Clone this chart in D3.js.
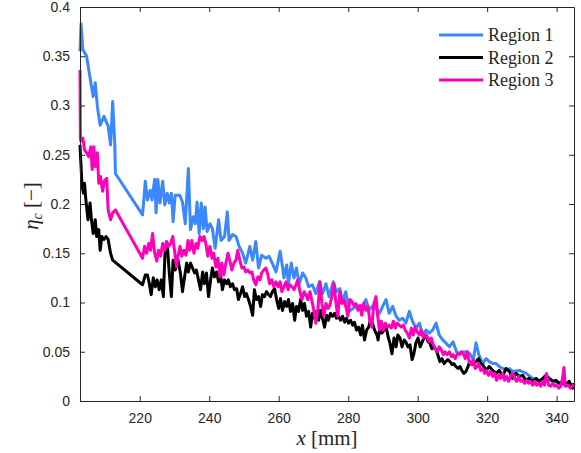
<!DOCTYPE html>
<html>
<head>
<meta charset="utf-8">
<script src="https://cdn.jsdelivr.net/npm/d3@7"></script>
<style>
  body { margin: 0; background: #fff; }
  svg { display: block; }
  .tick text { font-family: "Liberation Sans", Arial, sans-serif; font-size: 14px; fill: #262626; }
  .lbl { font-family: "Liberation Serif", "DejaVu Serif", serif; fill: #262626; }
</style>
</head>
<body>
<svg id="chart" width="581" height="453"></svg>
<script>
// data: [x (mm), eta_c]
const region1 = [
  [202.8,0.355],[203.1,0.383],[203.6,0.357],[204.7,0.350],[205.7,0.328],[206.6,0.309],[207.2,0.323],
  [207.8,0.299],[208.6,0.280],[209.7,0.289],[210.9,0.279],[211.6,0.260],[212.2,0.304],[212.8,0.262],
  [213.0,0.231],[220.8,0.189],[221.6,0.223],[222.2,0.204],[223.0,0.214],[223.5,0.204],[224.3,0.225],
  [224.7,0.191],[225.2,0.225],[225.8,0.201],[226.6,0.223],[227.2,0.199],[227.9,0.211],[228.5,0.201],
  [229.1,0.211],[229.6,0.182],[230.2,0.209],[231.5,0.209],[232.3,0.202],[233.1,0.180],[234.0,0.236],
  [234.6,0.174],[235.4,0.187],[236.0,0.180],[236.5,0.202],[237.1,0.170],[237.7,0.201],[238.3,0.175],
  [238.8,0.197],[239.4,0.172],[240.2,0.180],[240.9,0.175],[241.7,0.155],[242.7,0.184],[243.4,0.163],
  [244.4,0.167],[245.2,0.192],[245.7,0.163],[246.7,0.169],[247.7,0.167],[248.6,0.157],[249.6,0.150],
  [250.5,0.140],[251.7,0.157],[252.5,0.143],[253.4,0.162],[254.2,0.135],[255.1,0.148],[256.3,0.145],
  [257.2,0.147],[258.4,0.138],[259.2,0.131],[260.4,0.152],[261.1,0.136],[261.5,0.125],[262.3,0.138],
  [262.8,0.119],[263.6,0.140],[264.4,0.125],[265.1,0.135],[265.9,0.119],[266.9,0.130],[267.8,0.125],
  [268.6,0.116],[269.7,0.118],[270.7,0.109],[271.7,0.121],[272.6,0.109],[273.6,0.119],[274.5,0.106],
  [275.7,0.121],[276.6,0.111],[277.6,0.114],[278.4,0.101],[279.3,0.111],[280.3,0.091],[281.4,0.094],
  [282.6,0.097],[283.7,0.094],[285.1,0.103],[286.0,0.092],[287.2,0.097],[288.0,0.094],[289.0,0.089],
  [289.9,0.096],[290.9,0.103],[291.8,0.089],[292.8,0.096],[293.8,0.086],[294.7,0.082],[295.7,0.084],
  [296.6,0.079],[297.6,0.091],[298.5,0.081],[299.5,0.074],[300.5,0.079],[301.4,0.067],[302.4,0.072],
  [303.3,0.069],[304.3,0.072],[305.3,0.079],[306.2,0.067],[307.2,0.062],[308.1,0.059],[309.1,0.055],
  [310.2,0.060],[311.2,0.050],[312.2,0.048],[313.1,0.050],[314.1,0.050],[315.0,0.048],[316.0,0.042],
  [316.8,0.059],[317.6,0.047],[318.7,0.038],[319.7,0.043],[320.6,0.040],[321.6,0.038],[322.6,0.038],
  [323.5,0.035],[324.5,0.033],[325.4,0.031],[326.4,0.033],[327.3,0.030],[329.3,0.031],[331.2,0.028],
  [333.1,0.023],[335.0,0.020],[336.9,0.025],[338.9,0.020],[340.8,0.018],[342.7,0.016],[345.0,0.016]
];

const region2 = [
  [202.8,0.260],[203.0,0.245],[203.4,0.218],[203.8,0.211],[204.1,0.221],[204.5,0.204],[205.1,0.184],
  [205.7,0.201],[206.1,0.184],[206.6,0.170],[207.2,0.184],[207.6,0.167],[208.2,0.174],[208.6,0.153],
  [209.1,0.167],[209.7,0.164],[210.3,0.167],[210.9,0.164],[211.6,0.150],[212.2,0.143],[220.8,0.118],
  [221.6,0.128],[222.2,0.128],[222.7,0.120],[223.3,0.108],[223.9,0.125],[224.5,0.116],[225.0,0.123],
  [225.6,0.113],[226.2,0.123],[226.8,0.106],[227.3,0.153],[227.9,0.160],[228.5,0.130],[229.1,0.106],
  [229.6,0.143],[230.2,0.133],[231.0,0.143],[231.7,0.130],[232.3,0.111],[232.9,0.126],[233.5,0.140],
  [234.0,0.131],[234.6,0.140],[235.2,0.135],[235.8,0.130],[236.3,0.133],[236.9,0.123],[237.5,0.113],
  [238.1,0.131],[238.6,0.119],[239.2,0.130],[239.8,0.106],[240.4,0.123],[240.9,0.135],[241.5,0.126],
  [242.1,0.131],[242.7,0.121],[243.2,0.130],[243.8,0.113],[244.4,0.123],[245.0,0.119],[245.5,0.123],
  [246.1,0.116],[246.7,0.119],[247.3,0.113],[247.9,0.114],[248.4,0.103],[249.0,0.109],[249.6,0.116],
  [250.2,0.106],[250.7,0.109],[251.3,0.103],[251.9,0.096],[252.5,0.087],[253.0,0.113],[253.6,0.103],
  [254.2,0.106],[254.8,0.096],[255.3,0.108],[255.9,0.106],[256.5,0.111],[257.1,0.108],[257.6,0.106],
  [258.2,0.111],[258.8,0.114],[259.4,0.103],[260.0,0.094],[260.5,0.104],[261.1,0.092],[261.7,0.101],
  [262.3,0.096],[262.8,0.103],[263.4,0.091],[264.0,0.099],[264.6,0.082],[265.1,0.096],[265.7,0.091],
  [266.3,0.103],[266.9,0.092],[267.4,0.099],[268.0,0.086],[268.6,0.091],[269.2,0.075],[269.7,0.089],
  [270.3,0.084],[270.9,0.091],[271.5,0.082],[272.0,0.092],[272.6,0.084],[273.2,0.075],[273.8,0.087],
  [274.3,0.082],[274.9,0.089],[275.5,0.086],[276.1,0.089],[276.6,0.084],[277.2,0.086],[277.8,0.082],
  [278.4,0.086],[279.0,0.080],[279.5,0.084],[280.1,0.079],[280.7,0.082],[281.3,0.077],[281.8,0.080],
  [282.4,0.072],[283.0,0.075],[283.6,0.067],[284.1,0.077],[284.7,0.062],[285.3,0.072],[285.9,0.075],
  [286.4,0.082],[287.0,0.079],[287.6,0.072],[288.3,0.067],[288.6,0.062],[289.2,0.076],[289.7,0.069],
  [290.3,0.072],[290.9,0.076],[291.5,0.065],[292.0,0.059],[292.6,0.048],[293.2,0.064],[293.8,0.055],
  [294.3,0.067],[294.9,0.064],[295.5,0.055],[296.1,0.062],[296.6,0.060],[297.2,0.055],[297.8,0.057],
  [298.4,0.042],[298.9,0.048],[299.5,0.059],[300.1,0.064],[300.7,0.055],[301.2,0.059],[301.8,0.064],
  [302.4,0.067],[303.0,0.060],[303.5,0.059],[304.1,0.053],[304.7,0.055],[305.3,0.052],[305.8,0.047],
  [306.4,0.040],[307.0,0.043],[307.6,0.038],[308.1,0.040],[308.7,0.042],[309.3,0.040],[309.9,0.037],
  [310.4,0.038],[311.0,0.035],[311.6,0.033],[312.2,0.035],[312.7,0.031],[313.3,0.028],[313.9,0.030],
  [314.5,0.035],[315.0,0.040],[315.6,0.037],[316.2,0.038],[316.8,0.040],[317.6,0.043],[318.1,0.038],
  [318.7,0.037],[319.7,0.031],[320.6,0.035],[321.6,0.031],[322.6,0.028],[323.5,0.031],[324.5,0.025],
  [325.4,0.033],[326.4,0.030],[327.3,0.023],[328.3,0.028],[329.3,0.025],[330.2,0.026],[331.2,0.021],
  [332.1,0.023],[333.1,0.020],[334.1,0.023],[335.0,0.020],[336.0,0.023],[336.9,0.026],[337.9,0.023],
  [338.9,0.020],[339.8,0.021],[340.8,0.018],[341.7,0.020],[342.7,0.016],[343.6,0.020],[344.6,0.013],
  [345.0,0.018]
];

const region3 = [
  [202.8,0.336],[202.9,0.268],[203.0,0.264],[203.6,0.267],[204.1,0.255],[204.7,0.252],[205.3,0.248],
  [205.9,0.258],[206.3,0.235],[206.8,0.258],[207.2,0.238],[207.8,0.252],[208.2,0.221],[208.7,0.228],
  [209.3,0.213],[209.9,0.224],[210.5,0.226],[210.9,0.194],[211.6,0.184],[212.2,0.191],[213.0,0.194],
  [220.8,0.145],[221.4,0.157],[222.0,0.150],[222.6,0.160],[223.1,0.153],[223.7,0.170],[224.3,0.150],
  [224.9,0.142],[225.4,0.153],[226.0,0.147],[226.6,0.160],[227.2,0.153],[227.7,0.162],[228.3,0.157],
  [228.9,0.160],[229.5,0.167],[230.0,0.153],[230.6,0.136],[231.0,0.147],[231.6,0.157],[232.1,0.147],
  [232.7,0.153],[233.3,0.148],[233.9,0.163],[234.4,0.153],[235.0,0.163],[235.6,0.150],[236.2,0.160],
  [236.7,0.155],[237.3,0.167],[237.9,0.163],[238.5,0.167],[239.0,0.160],[239.6,0.147],[240.2,0.157],
  [240.8,0.145],[241.3,0.150],[241.9,0.136],[242.5,0.145],[243.1,0.126],[243.6,0.140],[244.2,0.128],
  [244.8,0.140],[245.4,0.150],[245.9,0.143],[246.5,0.133],[247.1,0.140],[247.7,0.143],[248.2,0.153],
  [248.8,0.143],[249.4,0.135],[250.0,0.136],[250.5,0.131],[251.1,0.133],[251.7,0.130],[252.3,0.131],
  [252.8,0.123],[253.4,0.118],[254.0,0.126],[254.6,0.123],[255.1,0.130],[255.7,0.133],[256.3,0.135],
  [256.9,0.128],[257.4,0.119],[258.0,0.123],[258.6,0.116],[259.2,0.121],[259.8,0.116],[260.4,0.121],
  [260.9,0.111],[261.5,0.116],[262.1,0.121],[262.7,0.113],[263.2,0.118],[263.8,0.116],[264.4,0.113],
  [265.0,0.118],[265.5,0.123],[266.1,0.111],[266.7,0.103],[267.3,0.111],[267.8,0.108],[268.4,0.103],
  [269.0,0.111],[269.6,0.101],[270.1,0.092],[270.7,0.079],[271.3,0.094],[271.9,0.121],[272.4,0.099],
  [273.0,0.086],[273.6,0.099],[274.2,0.094],[274.7,0.097],[275.3,0.106],[275.9,0.119],[276.5,0.099],
  [277.0,0.086],[277.6,0.111],[278.2,0.099],[278.8,0.103],[279.3,0.096],[279.9,0.086],[280.5,0.103],
  [281.1,0.101],[281.6,0.097],[282.2,0.099],[282.8,0.092],[283.4,0.097],[283.9,0.087],[284.5,0.099],
  [285.1,0.092],[285.7,0.096],[286.2,0.082],[286.8,0.075],[287.4,0.099],[288.0,0.106],[288.5,0.086],
  [289.0,0.072],[289.5,0.081],[290.1,0.072],[290.7,0.079],[291.3,0.075],[291.8,0.077],[292.4,0.074],
  [293.0,0.081],[293.6,0.074],[294.1,0.079],[294.7,0.077],[295.3,0.075],[295.9,0.077],[296.4,0.072],
  [297.0,0.069],[297.6,0.064],[298.2,0.074],[298.7,0.067],[299.3,0.075],[299.9,0.070],[300.5,0.067],
  [301.0,0.072],[301.6,0.064],[302.2,0.067],[302.8,0.065],[303.3,0.060],[303.9,0.064],[304.5,0.057],
  [305.1,0.053],[305.6,0.050],[306.2,0.055],[306.8,0.052],[307.4,0.047],[307.9,0.050],[308.5,0.047],
  [309.1,0.050],[309.7,0.045],[310.2,0.047],[310.8,0.043],[311.4,0.048],[312.0,0.047],[312.5,0.050],
  [313.1,0.048],[313.7,0.043],[314.3,0.050],[314.8,0.040],[315.4,0.037],[316.0,0.042],[316.6,0.033],
  [317.1,0.035],[317.6,0.038],[318.1,0.031],[318.7,0.033],[319.3,0.028],[319.9,0.031],[320.4,0.026],
  [321.0,0.030],[321.6,0.025],[322.2,0.028],[322.7,0.021],[323.3,0.026],[323.9,0.023],[324.5,0.028],
  [325.0,0.021],[325.6,0.025],[326.2,0.020],[326.8,0.026],[327.3,0.028],[327.9,0.023],[328.5,0.020],
  [329.1,0.025],[329.6,0.020],[330.2,0.021],[330.8,0.018],[331.4,0.021],[331.9,0.018],[332.5,0.020],
  [333.1,0.016],[333.7,0.020],[334.2,0.016],[334.8,0.018],[335.4,0.015],[336.0,0.020],[336.5,0.016],
  [337.1,0.028],[337.7,0.016],[338.3,0.015],[338.9,0.018],[339.4,0.015],[340.0,0.016],[340.6,0.013],
  [341.2,0.015],[341.7,0.023],[342.1,0.034],[342.5,0.015],[343.3,0.016],[344.0,0.013],[344.8,0.016],
  [345.0,0.015]
];

const seriesNames = ["Region 1", "Region 2", "Region 3"];
const seriesColors = ["#3a87ff", "#000000", "#ff00bb"];
const xTicks = [220, 240, 260, 280, 300, 320, 340];
const yTicks = [0, 0.05, 0.1, 0.15, 0.2, 0.25, 0.3, 0.35, 0.4];

const margin = { left: 80, right: 7, top: 7, bottom: 52 };
const W = 581, H = 453;
const svg = d3.select("#chart");

const x = d3.scaleLinear().domain([202.8, 345]).range([margin.left, W - margin.right]);
const y = d3.scaleLinear().domain([0, 0.4]).range([H - margin.bottom, margin.top]);

const axisColor = "#262626";
const fmt = d => d === 0 ? "0" : String(+d.toFixed(2));

// lines (not clipped, like the original the stroke spills over the axes a bit)
const line = d3.line().x(d => x(d[0])).y(d => y(d[1]));
const data = [region1, region2, region3];
svg.append("g")
  .selectAll("path").data(data).enter().append("path")
  .attr("d", line)
  .attr("fill", "none")
  .attr("stroke", (d, i) => seriesColors[i])
  .attr("stroke-width", 3)
  .attr("stroke-linejoin", "round");

// axes (box with inward ticks)
function styleAxis(g) {
  g.select(".domain").attr("stroke", axisColor).attr("stroke-width", 1);
  g.selectAll(".tick line").attr("stroke", axisColor);
}
svg.append("g").attr("transform", `translate(0,${H - margin.bottom})`)
  .call(d3.axisBottom(x).tickValues(xTicks).tickSizeInner(-5).tickSizeOuter(0).tickPadding(12))
  .call(styleAxis);
svg.append("g").attr("transform", `translate(0,${margin.top})`)
  .call(d3.axisTop(x).tickValues(xTicks).tickSizeInner(-5).tickSizeOuter(0).tickFormat(""))
  .call(styleAxis);
svg.append("g").attr("transform", `translate(${margin.left},0)`)
  .call(d3.axisLeft(y).tickValues(yTicks).tickSizeInner(-5).tickSizeOuter(0).tickPadding(10).tickFormat(fmt))
  .call(styleAxis);
svg.append("g").attr("transform", `translate(${W - margin.right},0)`)
  .call(d3.axisRight(y).tickValues(yTicks).tickSizeInner(-5).tickSizeOuter(0).tickFormat(""))
  .call(styleAxis);

// axis labels
const xl = svg.append("text").attr("class", "lbl")
  .attr("x", 327).attr("y", 445).attr("text-anchor", "middle").attr("font-size", 21);
xl.append("tspan").attr("font-style", "italic").text("x");
xl.append("tspan").text(" [mm]");

const yl = svg.append("text").attr("class", "lbl")
  .attr("transform", "translate(38,206) rotate(-90)")
  .attr("text-anchor", "middle").attr("font-size", 21);
yl.append("tspan").attr("font-style", "italic").text("η");
yl.append("tspan").attr("font-style", "italic").attr("font-size", 14).attr("dy", 4).text("c");
yl.append("tspan").attr("dy", -4).text(" [−]");

// legend
const leg = svg.append("g").selectAll("g").data(seriesNames).enter().append("g")
  .attr("transform", (d, i) => `translate(439,${35 + i * 22.5})`);
leg.append("line").attr("x1", 0).attr("x2", 44)
  .attr("stroke", (d, i) => seriesColors[i]).attr("stroke-width", 3);
leg.append("text").attr("class", "lbl").attr("x", 49).attr("y", 6)
  .attr("font-size", 18).text(d => d);
</script>
</body>
</html>
